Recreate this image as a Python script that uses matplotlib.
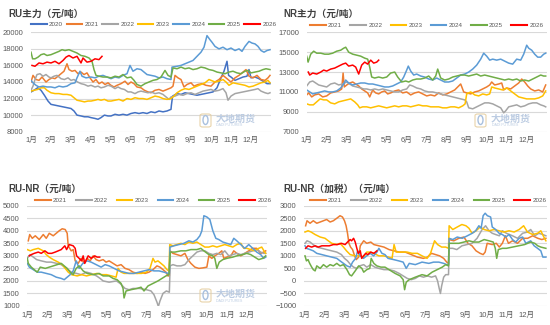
import numpy as np
import matplotlib
matplotlib.use("Agg")
import matplotlib.pyplot as plt
from matplotlib.lines import Line2D
from matplotlib.patches import FancyBboxPatch, Ellipse

plt.rcParams['font.family'] = ['Liberation Sans', 'Noto Sans CJK SC']

# ---------------- data (x = months since Jan 1, value in 元/吨) ----------------
months = ['1月', '2月', '3月', '4月', '5月', '6月', '7月', '8月', '9月', '10月', '11月', '12月']
years_ru = ['2020', '2021', '2022', '2023', '2024', '2025', '2026']
years_nr = ['2021', '2022', '2023', '2024', '2025', '2026']

RU_2020 = [(0,12800),(0.15,13000),(0.33,13300),(0.5,13000),(0.67,12400),(0.85,11700),(1.0,11300),(1.2,11200),(1.4,11100),(1.6,11000),(1.8,10900),(2.0,10800),(2.15,10500),(2.3,10000),(2.5,9900),(2.67,9800),(2.85,9800),(3.0,9700),(3.2,9600),(3.35,9500),(3.5,9700),(3.67,10000),(3.85,9900),(4.0,9900),(4.2,10100),(4.4,10000),(4.6,10100),(4.8,10000),(5.0,10200),(5.2,10300),(5.4,10200),(5.6,10300),(5.8,10200),(6.0,10400),(6.2,10300),(6.4,10500),(6.6,10400),(6.8,10500),(7.0,10700),(7.02,11200),(7.08,12300),(7.3,12600),(7.5,12500),(7.7,12700),(7.9,12600),(8.1,12500),(8.3,12400),(8.5,12500),(8.7,12600),(8.9,12700),(9.1,12800),(9.3,13300),(9.5,14500),(9.65,15300),(9.8,16500),(9.88,14800),(10.0,14600),(10.2,14200),(10.4,14400),(10.6,14600),(10.8,14700),(10.9,15500),(11.0,14500),(11.2,14600),(11.4,14400),(11.6,14100),(11.8,13800),(11.95,13800)]
RU_2021 = [(0,14000),(0.1,14800),(0.25,14300),(0.4,14200),(0.55,14600),(0.75,14000),(0.9,14300),(1.05,14500),(1.2,14400),(1.35,14700),(1.5,15000),(1.65,15300),(1.8,16200),(1.9,15500),(2.05,15300),(2.2,15400),(2.35,15000),(2.5,15200),(2.65,14900),(2.8,15100),(2.95,14500),(3.1,14000),(3.25,14300),(3.4,13800),(3.55,14000),(3.7,13700),(3.85,13900),(4.0,13600),(4.15,13400),(4.3,13600),(4.5,13800),(4.7,14100),(4.85,13700),(5.0,14000),(5.15,13800),(5.3,13400),(5.5,13300),(5.67,13000),(5.85,12800),(6.0,12700),(6.2,13000),(6.4,13100),(6.6,12900),(6.8,13100),(7.0,13300),(7.1,13500),(7.2,14800),(7.35,14500),(7.5,14300),(7.65,13400),(7.8,13700),(8.0,13900),(8.15,13500),(8.35,13700),(8.55,13800),(8.75,13600),(9.0,13500),(9.2,14000),(9.4,14300),(9.6,14800),(9.8,14400),(10.0,14000),(10.2,14500),(10.4,14800),(10.6,15200),(10.75,15500),(10.9,14700),(11.1,14500),(11.3,14800),(11.5,14300),(11.7,14200),(11.85,14500),(11.95,14800)]
RU_2022 = [(0,13000),(0.1,13500),(0.2,14300),(0.3,14900),(0.45,15000),(0.6,14700),(0.75,14900),(0.9,14600),(1.0,14500),(1.15,14700),(1.3,14800),(1.5,14400),(1.67,14300),(1.85,14500),(2.0,14200),(2.15,14300),(2.33,14000),(2.5,13800),(2.67,13700),(2.85,13500),(3.0,13600),(3.2,13400),(3.35,13500),(3.5,13300),(3.67,13400),(3.85,13600),(4.0,13500),(4.2,13200),(4.35,13400),(4.5,13200),(4.67,13100),(4.85,12800),(5.0,12800),(5.2,12600),(5.35,12800),(5.5,12900),(5.67,12800),(5.85,12700),(6.0,12800),(6.2,12600),(6.4,12700),(6.6,12500),(6.75,12200),(6.9,11900),(7.0,12200),(7.2,12300),(7.4,12500),(7.6,12400),(7.8,12600),(8.0,12700),(8.2,12500),(8.4,12700),(8.6,12900),(8.8,13000),(9.0,13100),(9.2,12900),(9.4,13000),(9.6,13200),(9.75,12700),(9.85,11800),(10.0,12300),(10.2,12600),(10.4,12700),(10.6,12800),(10.8,12900),(11.0,13000),(11.2,13100),(11.35,13200),(11.5,12900),(11.7,12700),(11.85,12600),(11.95,12700)]
RU_2023 = [(0,12900),(0.15,13000),(0.33,13100),(0.5,13300),(0.67,13300),(0.8,13000),(1.0,12700),(1.2,12600),(1.4,12600),(1.6,12500),(1.8,12500),(2.0,12400),(2.15,12100),(2.3,11800),(2.5,11700),(2.67,11600),(2.85,11700),(3.0,11700),(3.2,11800),(3.35,11900),(3.5,11800),(3.67,11900),(3.85,11700),(4.0,11700),(4.2,11800),(4.4,11900),(4.6,11700),(4.8,12000),(5.0,11900),(5.2,12100),(5.4,12000),(5.6,12000),(5.8,11900),(6.0,12100),(6.2,12300),(6.4,12200),(6.6,12000),(6.8,11900),(7.0,12000),(7.15,12300),(7.3,12700),(7.5,13000),(7.7,13200),(7.9,13100),(8.1,13300),(8.3,13500),(8.5,13700),(8.7,13900),(8.9,14300),(9.0,14200),(9.2,14000),(9.4,14100),(9.6,14300),(9.75,14000),(9.9,13600),(10.1,13900),(10.3,13800),(10.5,13700),(10.7,13600),(10.9,13400),(11.1,13500),(11.3,13700),(11.5,13900),(11.7,14000),(11.85,14200),(11.95,13900)]
RU_2024 = [(0,14200),(0.1,13900),(0.25,13600),(0.4,13400),(0.6,13500),(0.8,13400),(1.0,13400),(1.2,13300),(1.4,13500),(1.6,13400),(1.8,13500),(2.0,13800),(2.2,13900),(2.3,14500),(2.45,15300),(2.55,14700),(2.75,14500),(3.0,14600),(3.2,14500),(3.4,14700),(3.6,14800),(3.8,14600),(4.0,14400),(4.2,14600),(4.4,14500),(4.6,14800),(4.8,15000),(4.95,16000),(5.1,15300),(5.3,15600),(5.5,15500),(5.65,15200),(5.8,14900),(6.0,14800),(6.2,14700),(6.4,14500),(6.6,14600),(6.8,14400),(7.0,14300),(7.05,15800),(7.3,15900),(7.5,16000),(7.7,16200),(7.9,16400),(8.1,16600),(8.3,17100),(8.5,17600),(8.65,18200),(8.8,19600),(8.95,19100),(9.05,18800),(9.2,18300),(9.4,18000),(9.6,18200),(9.8,17900),(10.0,18100),(10.2,17800),(10.4,18000),(10.55,17700),(10.7,18300),(10.9,18900),(11.05,18700),(11.2,18600),(11.35,18300),(11.5,17800),(11.65,17600),(11.8,17800),(11.95,17900)]
RU_2025 = [(0,17600),(0.08,16800),(0.2,16800),(0.35,17000),(0.5,17300),(0.65,17400),(0.8,17200),(1.0,17300),(1.2,17500),(1.4,17700),(1.55,17900),(1.7,17800),(1.9,17900),(2.1,17700),(2.3,17500),(2.5,17200),(2.7,17100),(2.9,16900),(3.05,16500),(3.15,15500),(3.25,14800),(3.4,14700),(3.6,14600),(3.8,14600),(4.0,14500),(4.2,14700),(4.4,14600),(4.6,14900),(4.8,14500),(5.0,14600),(5.15,14200),(5.3,13700),(5.5,13500),(5.7,13800),(5.9,14000),(6.1,14200),(6.3,14300),(6.5,14600),(6.7,15400),(6.85,14800),(7.0,14600),(7.1,15700),(7.3,15600),(7.5,15800),(7.7,15600),(7.9,15700),(8.1,15500),(8.3,15600),(8.5,15800),(8.7,15700),(8.9,15500),(9.1,15400),(9.3,15200),(9.5,15100),(9.7,15000),(9.9,15200),(10.1,15300),(10.3,15100),(10.5,15000),(10.7,15300),(10.85,15400),(11.0,15100),(11.2,15200),(11.4,15300),(11.6,15500),(11.75,15600),(11.95,15500)]
RU_2026 = [(0.05,16000),(0.2,15900),(0.4,16300),(0.6,16200),(0.8,16400),(1.0,16300),(1.2,16500),(1.4,16200),(1.6,16600),(1.75,17000),(1.9,17200),(2.1,16900),(2.3,17100),(2.5,16300),(2.6,16900),(2.8,16400),(3.0,16500),(3.2,16800),(3.4,16700),(3.55,17100)]

NR_2021 = [(0,10700),(0.1,10900),(0.25,10500),(0.4,10700),(0.6,10800),(0.8,10500),(1.0,10600),(1.2,10900),(1.4,11000),(1.6,11100),(1.75,11300),(1.82,12900),(1.88,11500),(2.0,11700),(2.15,11900),(2.3,12000),(2.45,11800),(2.6,11600),(2.75,11300),(2.9,11100),(3.05,10900),(3.15,10500),(3.3,11200),(3.45,10900),(3.6,10800),(3.75,11000),(3.9,11100),(4.05,10800),(4.2,10900),(4.4,11100),(4.6,11200),(4.8,10900),(5.0,11000),(5.2,10700),(5.4,10900),(5.6,11000),(5.8,10800),(6.0,10600),(6.2,10700),(6.4,10600),(6.6,10900),(6.8,10700),(7.0,10800),(7.2,11000),(7.4,11200),(7.55,11500),(7.7,11800),(7.85,11000),(8.0,10900),(8.2,10800),(8.4,11000),(8.6,11100),(8.8,11300),(9.0,11500),(9.15,11700),(9.25,12000),(9.4,11700),(9.6,11800),(9.75,11900),(9.85,11200),(10.0,11400),(10.2,11300),(10.4,11600),(10.6,11900),(10.75,12300),(10.9,12000),(11.05,11600),(11.2,11300),(11.4,11100),(11.6,11200),(11.8,11000),(11.95,11700)]
NR_2022 = [(0,11600),(0.15,12000),(0.3,12100),(0.45,11900),(0.6,11700),(0.8,11600),(1.0,11500),(1.2,11800),(1.4,11900),(1.6,11700),(1.8,11800),(2.0,12000),(2.15,11800),(2.3,11600),(2.5,11500),(2.7,11400),(2.85,11300),(3.0,11300),(3.2,11200),(3.4,11300),(3.6,11200),(3.8,11300),(4.0,11200),(4.2,11100),(4.4,11000),(4.6,11000),(4.8,11200),(5.0,11300),(5.15,11700),(5.3,11600),(5.5,11400),(5.7,11300),(5.9,11100),(6.1,11000),(6.3,11000),(6.5,10900),(6.7,10800),(6.9,10700),(7.1,10600),(7.3,10500),(7.5,10400),(7.7,10300),(7.9,10200),(8.0,10000),(8.1,9400),(8.3,9300),(8.5,9500),(8.7,9700),(8.9,9900),(9.1,9900),(9.3,9800),(9.5,9600),(9.7,9400),(9.85,8900),(9.95,9100),(10.1,9500),(10.3,9600),(10.5,9700),(10.7,9500),(10.9,9600),(11.1,9800),(11.3,9900),(11.5,9900),(11.7,9700),(11.85,9600),(11.95,9500)]
NR_2023 = [(0,9800),(0.15,9700),(0.33,9700),(0.5,10000),(0.67,10300),(0.85,10200),(1.0,10200),(1.2,9900),(1.4,9800),(1.6,10000),(1.8,10100),(2.0,10200),(2.2,10300),(2.4,10000),(2.55,9700),(2.65,9400),(2.8,9500),(3.0,9500),(3.2,9400),(3.4,9500),(3.6,9600),(3.8,9500),(4.0,9400),(4.2,9500),(4.4,9600),(4.6,9500),(4.8,9600),(5.0,9600),(5.2,9500),(5.4,9600),(5.6,9700),(5.8,9600),(6.0,9600),(6.2,9500),(6.4,9500),(6.6,9500),(6.8,9400),(7.0,9400),(7.2,9500),(7.4,9500),(7.6,9400),(7.8,9600),(7.92,9800),(8.0,10800),(8.2,11000),(8.4,10700),(8.6,10600),(8.8,10800),(9.0,10700),(9.15,10800),(9.25,11500),(9.4,11400),(9.6,11300),(9.8,11200),(10.0,11400),(10.2,11100),(10.4,10800),(10.6,10500),(10.8,10400),(11.0,10300),(11.2,10300),(11.4,10300),(11.6,10400),(11.8,10600),(11.95,11100)]
NR_2024 = [(0,11200),(0.15,11000),(0.3,10800),(0.5,10900),(0.7,11000),(0.9,11100),(1.1,11000),(1.3,11000),(1.5,11100),(1.7,11400),(1.85,11800),(1.95,12200),(2.1,11900),(2.3,11700),(2.5,11800),(2.7,11900),(2.9,11900),(3.1,11800),(3.3,11800),(3.5,11700),(3.7,11600),(3.9,11500),(4.1,11500),(4.3,11600),(4.5,11800),(4.7,12000),(4.85,12500),(5.0,13200),(5.08,13600),(5.2,13100),(5.35,12700),(5.5,12800),(5.7,12600),(5.9,12500),(6.1,12300),(6.3,12200),(6.5,12400),(6.7,12200),(6.9,12000),(7.1,12000),(7.3,12100),(7.5,12400),(7.7,12700),(7.9,12800),(8.1,13000),(8.3,13300),(8.5,13700),(8.7,14300),(8.85,14900),(9.0,14600),(9.15,14200),(9.3,14300),(9.5,14200),(9.7,14300),(9.9,14100),(10.1,13900),(10.3,13800),(10.5,14300),(10.7,14200),(10.85,14800),(11.0,15700),(11.1,15400),(11.25,15200),(11.4,14800),(11.55,14500),(11.7,14500),(11.85,14800),(11.95,14900)]
NR_2025 = [(0,14600),(0.07,14000),(0.2,14800),(0.35,15100),(0.5,14900),(0.7,14900),(0.9,14800),(1.1,14800),(1.3,14900),(1.5,15100),(1.7,15200),(1.85,15400),(1.95,15500),(2.1,15000),(2.3,14800),(2.5,14700),(2.7,14600),(2.9,14400),(3.05,14300),(3.15,13500),(3.25,12500),(3.4,12400),(3.6,12500),(3.8,12400),(4.0,12500),(4.2,12900),(4.4,13000),(4.55,12500),(4.75,12000),(4.95,12100),(5.1,12000),(5.3,12200),(5.5,12300),(5.7,12300),(5.9,12400),(6.1,12600),(6.3,12200),(6.45,12600),(6.55,13300),(6.7,12400),(6.9,12200),(7.1,12300),(7.3,12500),(7.5,12600),(7.7,12700),(7.9,12700),(8.1,12600),(8.3,12700),(8.5,12800),(8.7,12600),(8.9,12700),(9.1,12600),(9.3,12500),(9.5,12400),(9.7,12300),(9.9,12200),(10.1,12300),(10.3,12200),(10.5,12300),(10.7,12100),(10.9,12200),(11.1,12100),(11.3,12300),(11.5,12500),(11.7,12700),(11.85,12600),(11.95,12600)]
NR_2026 = [(0.08,13000),(0.15,12700),(0.3,12900),(0.5,12800),(0.7,13000),(0.85,13200),(1.0,13100),(1.2,13300),(1.4,13400),(1.6,13600),(1.8,13800),(1.95,13900),(2.1,13600),(2.3,13700),(2.45,13500),(2.6,12800),(2.75,13700),(2.9,14000),(3.05,13800),(3.2,14200),(3.35,13900),(3.5,14000),(3.6,14200)]

SP_2021 = [(0.05,3600),(0.12,3850),(0.25,3700),(0.4,3800),(0.6,3650),(0.8,3850),(0.95,3700),(1.1,3900),(1.3,3800),(1.45,3900),(1.6,4000),(1.75,4080),(1.9,4050),(2.0,3900),(2.05,3400),(2.2,3200),(2.3,3250),(2.4,2800),(2.55,2700),(2.7,2900),(2.85,2700),(3.0,2900),(3.15,2800),(3.3,3000),(3.45,2850),(3.6,2800),(3.8,2850),(3.95,2750),(4.1,2800),(4.3,2700),(4.5,2600),(4.7,2650),(4.9,2500),(5.1,2450),(5.3,2350),(5.5,2300),(5.7,2350),(5.9,2300),(6.1,2350),(6.3,2450),(6.5,2600),(6.65,2550),(6.8,2450),(6.95,2350),(7.05,2200),(7.12,2200),(7.15,3200),(7.3,3100),(7.5,3050),(7.7,3000),(7.9,3100),(8.05,2850),(8.2,2700),(8.4,2550),(8.6,2500),(8.8,2520),(9.0,2550),(9.1,3000),(9.25,2900),(9.4,3000),(9.6,3100),(9.75,3200),(9.85,2900),(10.0,2950),(10.2,3000),(10.35,3200),(10.5,3100),(10.7,3000),(10.9,3100),(11.1,3200),(11.3,3300),(11.5,3300),(11.7,3100),(11.85,3150),(11.95,3200)]
SP_2022 = [(0,2900),(0.13,3050),(0.3,2950),(0.47,2850),(0.7,2800),(0.97,2750),(1.2,2750),(1.47,2700),(1.7,2650),(1.97,2500),(2.2,2350),(2.47,2300),(2.7,2250),(2.97,2350),(3.2,2300),(3.47,2200),(3.65,2100),(3.8,2000),(4.1,1950),(4.47,2000),(4.65,1900),(4.9,1700),(5.1,1650),(5.3,1700),(5.63,1700),(5.97,1650),(6.2,1600),(6.35,1450),(6.5,1150),(6.57,980),(6.65,1200),(6.8,1500),(6.97,1600),(7.12,1550),(7.16,2600),(7.3,2650),(7.5,2600),(7.7,2600),(7.9,2650),(8.1,2850),(8.3,3000),(8.5,3150),(8.7,3200),(8.9,3200),(9.1,3100),(9.3,3050),(9.5,3100),(9.7,3050),(9.9,3200),(10.1,3000),(10.3,3050),(10.5,3100),(10.7,3050),(10.9,3100),(11.1,3150),(11.3,3200),(11.5,3250),(11.7,3150),(11.85,3100),(11.95,3100)]
SP_2023 = [(0,3250),(0.15,3200),(0.3,3250),(0.55,3300),(0.8,3200),(0.95,3050),(1.1,2950),(1.3,2850),(1.55,2750),(1.75,2650),(1.9,2500),(2.05,2350),(2.22,2250),(2.5,2200),(2.72,2250),(2.97,2200),(3.22,2250),(3.5,2300),(3.72,2250),(3.97,2250),(4.22,2200),(4.45,2150),(4.55,2500),(4.7,2350),(4.85,2300),(5.0,2300),(5.22,2300),(5.5,2300),(5.72,2300),(5.97,2350),(6.15,2500),(6.3,2900),(6.4,2750),(6.55,2800),(6.7,2700),(6.85,2600),(7.0,2450),(7.1,2400),(7.14,3450),(7.3,3400),(7.5,3450),(7.7,3500),(7.9,3450),(8.1,3550),(8.3,3500),(8.5,3550),(8.7,3450),(8.9,3350),(9.1,3350),(9.3,3400),(9.5,3350),(9.7,3400),(9.9,3450),(10.1,3400),(10.3,3350),(10.5,3450),(10.7,3500),(10.85,3300),(11.0,3300),(11.2,3250),(11.4,3200),(11.6,3300),(11.75,3350),(11.9,3150),(11.95,3100)]
SP_2024 = [(0,2700),(0.1,2550),(0.3,2450),(0.5,2350),(0.7,2350),(0.95,2300),(1.2,2250),(1.45,2150),(1.7,2100),(1.85,2050),(2.0,2150),(2.15,2250),(2.3,2400),(2.45,2800),(2.6,2500),(2.78,2700),(3.0,2800),(3.2,2750),(3.45,2650),(3.7,2550),(3.9,2650),(4.1,2600),(4.35,2500),(4.6,2400),(4.85,2350),(5.1,2300),(5.35,2300),(5.6,2350),(5.85,2400),(6.1,2450),(6.35,2400),(6.6,2400),(6.85,2350),(7.05,2300),(7.12,2300),(7.15,3350),(7.35,3400),(7.6,3450),(7.85,3500),(8.1,3600),(8.3,3550),(8.5,3650),(8.65,3800),(8.75,4000),(8.85,4600),(9.0,4550),(9.15,4450),(9.3,4000),(9.45,3700),(9.6,3650),(9.8,3550),(10.0,3500),(10.2,3450),(10.35,3700),(10.5,3600),(10.7,3450),(10.9,3300),(11.1,3450),(11.3,3300),(11.5,3150),(11.7,3050),(11.85,2900),(11.95,2950)]
SP_2025 = [(0,2900),(0.05,2700),(0.2,2550),(0.35,2450),(0.5,2350),(0.65,2550),(0.9,2500),(1.1,2550),(1.3,2600),(1.5,2650),(1.7,2700),(1.85,2600),(2.0,2500),(2.15,2350),(2.3,2250),(2.45,2500),(2.6,2600),(2.8,2400),(3.0,2300),(3.3,2250),(3.6,2300),(3.8,2200),(4.1,2200),(4.3,2100),(4.5,2050),(4.7,1900),(4.8,1700),(4.85,1320),(4.95,1600),(5.2,1650),(5.5,1700),(5.7,1750),(5.85,1600),(6.05,1800),(6.3,1900),(6.55,2000),(6.75,2100),(6.95,2200),(7.1,2250),(7.17,3150),(7.4,3150),(7.7,3200),(7.95,3200),(8.2,3250),(8.5,3250),(8.7,3300),(8.85,3200),(9.1,3050),(9.3,3000),(9.4,2900),(9.5,2500),(9.62,2750),(9.8,2850),(10.0,2900),(10.3,2950),(10.5,3000),(10.8,3050),(11.0,3100),(11.2,3050),(11.4,2950),(11.6,2850),(11.8,2900),(11.95,3000)]
SP_2026 = [(0.1,3000),(0.2,3050),(0.35,3100),(0.55,3150),(0.7,3100),(0.88,3200),(1.05,3100),(1.22,3100),(1.4,3150),(1.55,3200),(1.7,3250),(1.88,3400),(1.97,3250),(2.1,3450),(2.3,3400),(2.4,3300),(2.47,3000),(2.6,2900),(2.72,2800),(2.8,3000),(2.88,2700),(3.05,3000),(3.2,2900),(3.38,3000),(3.5,2950),(3.63,2950)]

TX_2021 = [(0.08,2200),(0.15,2400),(0.3,2300),(0.46,2400),(0.63,2300),(0.8,2350),(0.96,2400),(1.12,2450),(1.29,2350),(1.45,2400),(1.62,2500),(1.78,2600),(1.9,2550),(2.0,2400),(2.08,2200),(2.15,1900),(2.22,1500),(2.3,1350),(2.4,1250),(2.5,1000),(2.58,850),(2.7,950),(2.78,1400),(2.95,1600),(3.1,1500),(3.3,1550),(3.45,1450),(3.7,1400),(3.95,1350),(4.2,1250),(4.45,1200),(4.7,1150),(5.0,1150),(5.3,1050),(5.6,950),(5.9,900),(6.1,950),(6.3,1100),(6.5,1050),(6.7,1000),(6.9,900),(7.05,750),(7.14,700),(7.17,1650),(7.4,1600),(7.65,1700),(7.9,1750),(8.1,1500),(8.3,1400),(8.5,1200),(8.7,1100),(8.85,1050),(8.95,1150),(9.05,1500),(9.3,1450),(9.5,1500),(9.65,1350),(9.8,1500),(9.95,1800),(10.1,1500),(10.3,1600),(10.55,1500),(10.8,1700),(11.05,1700),(11.3,1800),(11.55,1700),(11.75,1650),(11.95,1700)]
TX_2022 = [(0.05,1500),(0.15,1600),(0.3,1550),(0.45,1450),(0.63,1350),(0.88,1300),(1.12,1250),(1.37,1200),(1.62,1150),(1.85,1050),(2.0,900),(2.15,800),(2.3,650),(2.45,550),(2.6,500),(2.75,600),(2.95,650),(3.1,550),(3.3,650),(3.5,550),(3.7,500),(3.95,450),(4.2,450),(4.45,400),(4.7,300),(4.9,200),(5.1,100),(5.3,50),(5.5,100),(5.7,200),(5.9,150),(6.1,200),(6.3,150),(6.5,200),(6.6,0),(6.68,-300),(6.74,-500),(6.8,-200),(6.9,150),(7.0,250),(7.14,250),(7.17,1300),(7.35,1300),(7.55,1250),(7.8,1400),(8.05,1450),(8.3,1500),(8.55,1700),(8.8,2050),(8.97,2200),(9.14,2000),(9.3,1900),(9.47,1850),(9.65,1800),(9.8,2000),(10.0,1900),(10.3,1800),(10.55,1700),(10.8,1900),(11.04,1950),(11.2,2050),(11.4,1800),(11.6,1900),(11.8,1850),(11.95,1800)]
TX_2023 = [(0.05,1950),(0.2,2000),(0.35,1950),(0.55,1850),(0.8,1750),(1.04,1700),(1.2,1600),(1.37,1500),(1.62,1450),(1.78,1500),(1.95,1350),(2.1,1200),(2.28,1050),(2.53,1000),(2.78,1000),(2.95,950),(3.1,1150),(3.27,1150),(3.44,1100),(3.7,1000),(3.93,1000),(4.18,950),(4.35,900),(4.45,1450),(4.55,1150),(4.8,1150),(5.1,1150),(5.34,1100),(5.6,1100),(5.83,1000),(6.08,900),(6.25,1100),(6.45,1600),(6.6,1450),(6.8,1350),(7.0,1350),(7.14,1300),(7.17,2200),(7.35,2050),(7.57,2150),(7.8,2250),(8.0,2200),(8.15,2100),(8.3,1900),(8.5,2000),(8.7,2150),(8.9,2050),(9.14,2000),(9.39,2050),(9.64,2000),(9.88,1950),(10.13,2000),(10.38,1950),(10.63,2050),(10.85,2200),(11.04,1950),(11.3,1850),(11.54,1900),(11.7,2000),(11.85,1750),(11.95,1600)]
TX_2024 = [(0.05,1400),(0.12,1300),(0.3,1250),(0.46,1200),(0.63,1100),(0.88,1050),(1.12,1000),(1.37,950),(1.62,900),(1.78,800),(1.95,700),(2.12,600),(2.28,550),(2.4,750),(2.55,900),(2.65,1200),(2.78,1000),(2.94,900),(3.1,1000),(3.27,1100),(3.44,1000),(3.6,1150),(3.7,1300),(3.85,1100),(4.0,1050),(4.15,900),(4.43,850),(4.68,800),(4.9,750),(5.05,500),(5.2,700),(5.5,650),(5.83,750),(6.17,700),(6.4,750),(6.66,750),(6.9,700),(7.05,650),(7.14,650),(7.17,1700),(7.35,1650),(7.57,1750),(7.82,1700),(8.07,1800),(8.31,1900),(8.48,2000),(8.64,2200),(8.75,2100),(8.85,2600),(8.95,2700),(9.06,2600),(9.22,2550),(9.3,2150),(9.47,2050),(9.64,1900),(9.8,1850),(9.97,1750),(10.13,1850),(10.3,1650),(10.46,1550),(10.63,1700),(10.8,1750),(10.96,1500),(11.2,1600),(11.37,1400),(11.54,1300),(11.7,1200),(11.8,950),(11.95,950)]
TX_2025 = [(0.05,1000),(0.12,800),(0.2,850),(0.28,700),(0.38,550),(0.46,450),(0.55,400),(0.63,600),(0.8,500),(0.96,650),(1.12,550),(1.29,650),(1.45,600),(1.62,700),(1.78,600),(1.95,650),(2.12,450),(2.25,250),(2.35,200),(2.53,400),(2.7,600),(2.86,500),(2.95,350),(3.1,450),(3.25,500),(3.32,900),(3.45,700),(3.6,600),(3.8,550),(4.0,550),(4.2,450),(4.5,300),(4.75,200),(4.9,50),(4.97,-350),(5.05,-50),(5.2,50),(5.5,150),(5.83,250),(6.08,200),(6.33,350),(6.58,450),(6.83,550),(7.0,650),(7.14,600),(7.17,1500),(7.4,1500),(7.65,1500),(7.9,1550),(8.15,1600),(8.4,1550),(8.64,1550),(8.9,1650),(9.14,1600),(9.35,1550),(9.45,1300),(9.52,900),(9.6,1250),(9.8,1300),(10.0,1300),(10.3,1350),(10.6,1400),(10.9,1450),(11.2,1550),(11.4,1500),(11.55,1400),(11.7,1350),(11.95,1300)]
TX_2026 = [(0.08,1300),(0.2,1400),(0.38,1350),(0.55,1400),(0.71,1350),(0.88,1400),(1.04,1400),(1.25,1400),(1.45,1450),(1.65,1450),(1.85,1500),(2.03,1450),(2.15,1550),(2.28,1650),(2.35,1600),(2.45,1700),(2.53,1550),(2.61,1300),(2.68,1100),(2.78,1200),(2.85,900),(2.94,1000),(3.05,1100),(3.15,1050),(3.3,1150),(3.45,1100),(3.6,1200)]

titles = ['RU主力（元/吨）', 'NR主力（元/吨）', 'RU-NR（元/吨）', 'RU-NR（加税）（元/吨）']

# ---------------- style ----------------
COLORS = {'2020': '#4472C4', '2021': '#ED7D31', '2022': '#A5A5A5', '2023': '#FFC000',
          '2024': '#5B9BD5', '2025': '#70AD47', '2026': '#FF0000'}
W, H = 550, 325
fig = plt.figure(figsize=(W / 100, H / 100), dpi=100)


def add_axes(l, r, t, b):
    return fig.add_axes([l / W, 1 - b / H, (r - l) / W, (b - t) / H])


def style(ax, ylo, yhi, ystep):
    ax.set_xlim(0, 12)
    ax.set_ylim(ylo, yhi)
    ax.set_yticks(np.arange(ylo, yhi + 1, ystep))
    ax.set_xticks(np.arange(12))
    ax.set_xticklabels(months)
    for s in ax.spines.values():
        s.set_visible(False)
    ax.grid(axis='y', color='#D9D9D9', lw=0.8)
    ax.set_axisbelow(True)
    ax.tick_params(axis='both', length=0, labelsize=5.5, labelcolor='#595959')
    ax.tick_params(axis='y', pad=5.5)
    ax.tick_params(axis='x', pad=4)


def draw(ax, series, labels):
    for lab, s in zip(labels, series):
        a = np.array(s, dtype=float)
        ax.plot(a[:, 0], a[:, 1], color=COLORS[lab], lw=1.1, solid_joinstyle='round')


def legend(labels, x, y, colsp):
    handles = [Line2D([], [], color=COLORS[l], lw=1.5) for l in labels]
    fig.legend(handles, labels, loc='center left', bbox_to_anchor=(x / W, 1 - y / H),
               ncol=len(labels), frameon=False, fontsize=4.5, handlelength=2.5,
               handletextpad=0.4, columnspacing=colsp, borderpad=0, borderaxespad=0,
               labelcolor='#595959')


def title(text, x, y):
    fig.text(x / W, 1 - y / H, text, fontsize=7, fontweight='bold', color='#404040',
             va='center', ha='left')


def watermark(x, y):
    # logo box
    fig.patches.append(FancyBboxPatch((x / W, 1 - (y + 7) / H), 11 / W, 13 / H,
                                      boxstyle='round,pad=0,rounding_size=0.005',
                                      transform=fig.transFigure, fc='none',
                                      ec='#E6CFA0', lw=0.8, alpha=0.9))
    fig.patches.append(Ellipse(((x + 5.5) / W, 1 - y / H), 5 / W, 9 / H,
                               transform=fig.transFigure, fc='none', ec='#A9C0DE', lw=1.0))
    fig.text((x + 16) / W, 1 - (y - 1.5) / H, '大地期货', fontsize=7.2, fontweight='bold',
             color='#BCCCE2', va='center', ha='left')
    fig.text((x + 16.5) / W, 1 - (y + 5.5) / H, 'DADI FUTURES', fontsize=2.6,
             color='#BCCCE2', va='center', ha='left')


# ---------------- panels ----------------
ax1 = add_axes(31, 271, 32.3, 131.7)
style(ax1, 8000, 20000, 2000)
draw(ax1, [RU_2020, RU_2021, RU_2022, RU_2023, RU_2024, RU_2025, RU_2026], years_ru)

ax2 = add_axes(306.7, 546.7, 32.3, 131.7)
style(ax2, 7000, 17000, 2000)
draw(ax2, [NR_2021, NR_2022, NR_2023, NR_2024, NR_2025, NR_2026], years_nr)

ax3 = add_axes(27.3, 266.7, 205.7, 306)
style(ax3, 1000, 5000, 500)
draw(ax3, [SP_2021, SP_2022, SP_2023, SP_2024, SP_2025, SP_2026], years_nr)

ax4 = add_axes(304, 546.9, 205.7, 306)
style(ax4, -1000, 3000, 500)
draw(ax4, [TX_2021, TX_2022, TX_2023, TX_2024, TX_2025, TX_2026], years_nr)

title(titles[0], 8, 14)
title(titles[1], 283, 14)
title(titles[2], 8, 189)
title(titles[3], 283, 189)

legend(years_ru, 31, 24.5, 0.55)
legend(years_nr, 310, 25, 1.3)
legend(years_nr, 35, 200.7, 1.4)
legend(years_nr, 310, 200.7, 1.4)

watermark(200, 120)
watermark(475, 120)
watermark(200, 295)

fig.savefig('out.png', dpi=100)
